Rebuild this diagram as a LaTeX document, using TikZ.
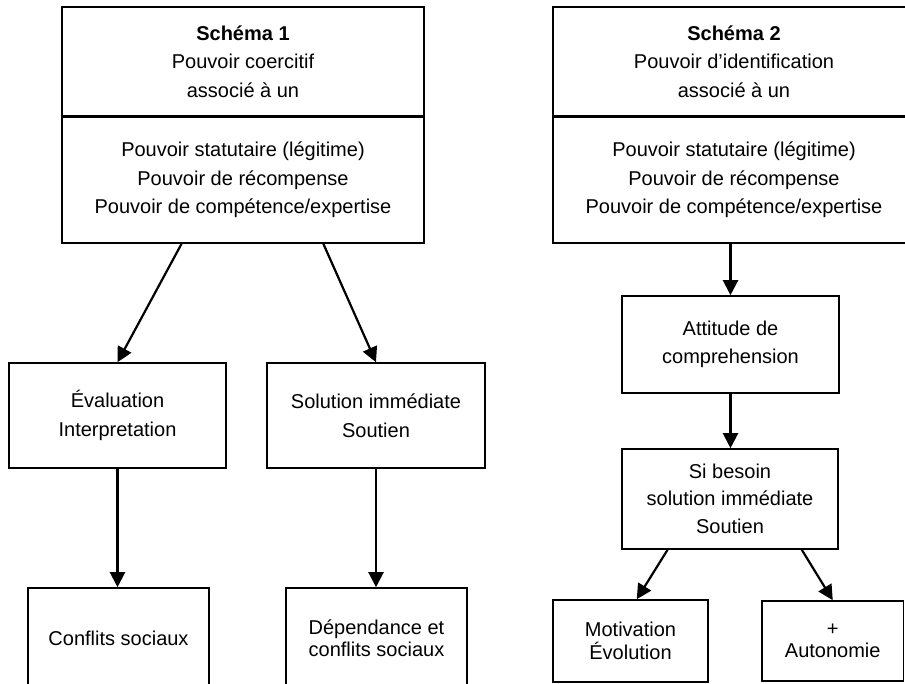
\documentclass[tikz,border=0pt]{standalone}
\usepackage{fontspec}
\setmainfont{Liberation Sans}
\usetikzlibrary{arrows.meta,calc}
\begin{document}
\begin{tikzpicture}[x=1pt,y=-1pt,
  box/.style={draw, line width=1.6pt, align=center, inner sep=0pt,
    font=\fontsize{20}{28.5}\selectfont},
  arr/.style={line width=2.2pt, -{Triangle[length=15pt,width=15pt]}}]
\useasboundingbox (0,0) rectangle (905,683);
\clip (0,0) rectangle (905,683);
% Schéma 1
\node[box, minimum width=362, minimum height=109] (b1top) at (243,61.5)
  {\textbf{Schéma 1}\\Pouvoir coercitif\\associé à un};
\node[box, minimum width=362, minimum height=126] (b1bot) at (243,180)
  {Pouvoir statutaire (légitime)\\Pouvoir de récompense\\Pouvoir de compétence/expertise};
\node[box, minimum width=217, minimum height=105] (eval) at (117.5,415.5)
  {Évaluation\\Interpretation};
\node[box, minimum width=218, minimum height=105] (sol) at (376,415.5)
  {Solution immédiate\\Soutien};
\node[box, minimum width=181, minimum height=100] (conf) at (118.5,638)
  {Conflits sociaux};
\node[box, minimum width=181, minimum height=100] (dep) at (376.5,638)
  {Dépendance et\\[-6pt]conflits sociaux};
% Schéma 2
\node[box, minimum width=362, minimum height=109] (b2top) at (734,61.5)
  {\textbf{Schéma 2}\\Pouvoir d’identification\\associé à un};
\node[box, minimum width=362, minimum height=126] (b2bot) at (734,180)
  {Pouvoir statutaire (légitime)\\Pouvoir de récompense\\Pouvoir de compétence/expertise};
\node[box, minimum width=217, minimum height=97] (att) at (730.5,344.5)
  {Attitude de\\comprehension};
\node[box, minimum width=216, minimum height=100] (si) at (730,499)
  {Si besoin\\[-2pt]solution immédiate\\Soutien};
\node[box, minimum width=155, minimum height=82] (mot) at (630.5,641)
  {Motivation\\[-6pt]Évolution};
\node[box, minimum width=141.5, minimum height=80] (aut) at (832.75,641)
  {+\\[-6pt]Autonomie};
% connectors
\draw[arr] ($(b1bot.south west)!0.331!(b1bot.south east)$) -- (eval.north);
\draw[arr] ($(b1bot.south west)!0.721!(b1bot.south east)$) -- (sol.north);
\draw[arr] (eval.south) -- (eval.south |- conf.north);
\draw[arr] (sol.south) -- (sol.south |- dep.north);
\draw[arr] (b2bot.south -| att.north) -- (att.north);
\draw[arr] (att.south) -- (att.south |- si.north);
\draw[arr] ($(si.south west)!0.213!(si.south east)$) -- ($(mot.north west)!0.54!(mot.north east)$);
\draw[arr] ($(si.south west)!0.83!(si.south east)$) -- (aut.north);
\end{tikzpicture}
\end{document}
